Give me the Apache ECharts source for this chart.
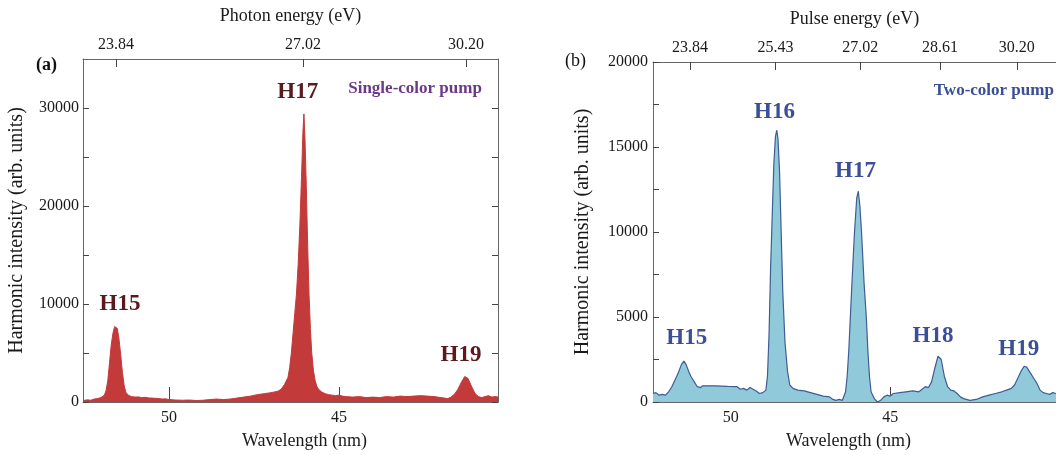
<!DOCTYPE html>
<html>
<head>
<meta charset="utf-8">
<script src="https://cdn.jsdelivr.net/npm/echarts@6/dist/echarts.min.js"></script>
<style>
  html, body { margin: 0; padding: 0; background: #fff; }
  #chart { width: 1056px; height: 455px; }
</style>
</head>
<body>
<div id="chart"></div>
<script>
  // panel (a) single-color pump spectrum: wavelength (nm) / intensity
  var waveA = [52.53, 52.4, 52.3, 52.2, 52.1, 52.0, 51.9, 51.85, 51.8, 51.75, 51.7, 51.65, 51.6, 51.56, 51.52, 51.47,
    51.42, 51.37, 51.32, 51.27, 51.2, 51.1, 51.0, 50.9, 50.8, 50.7, 50.6, 50.5, 50.4, 50.3, 50.2, 50.1, 50.0, 49.8,
    49.6, 49.4, 49.2, 49.0, 48.8, 48.6, 48.4, 48.2, 48.0, 47.8, 47.6, 47.4, 47.2, 47.0, 46.8, 46.7, 46.6, 46.5, 46.45,
    46.4, 46.35, 46.3, 46.25, 46.2, 46.15, 46.1, 46.06, 46.03, 46.0, 45.96, 45.92, 45.88, 45.84, 45.8, 45.75, 45.7,
    45.65, 45.6, 45.5, 45.4, 45.3, 45.2, 45.1, 45.0, 44.9, 44.8, 44.6, 44.4, 44.2, 44.0, 43.8, 43.6, 43.4, 43.2, 43.0,
    42.8, 42.6, 42.4, 42.2, 42.0, 41.9, 41.8, 41.7, 41.6, 41.5, 41.4, 41.3, 41.26, 41.2, 41.1, 41.0, 40.9, 40.8, 40.7,
    40.6, 40.5, 40.4, 40.32];
  var intA = [150, 220, 180, 300, 350, 450, 700, 1200, 2200, 4000, 5800, 7000, 7700, 7800, 7500, 6400,
    4800, 3000, 1700, 1000, 700, 550, 500, 520, 450, 480, 420, 400, 380, 350, 300, 320, 250, 200,
    180, 200, 150, 180, 250, 300, 250, 300, 400, 500, 600, 750, 850, 950, 1100, 1300, 1800, 2500, 3500,
    5000, 7000, 9000, 11000, 14000, 18000, 23000, 27500, 29400, 27000, 22000, 16000, 11000, 7500, 5000, 3200, 2200,
    1600, 1300, 1000, 850, 750, 700, 650, 700, 600, 550, 500, 550, 450, 500, 450, 550, 500, 600, 550,
    600, 650, 600, 550, 450, 400, 350, 500, 800, 1300, 2000, 2600, 2750, 2400, 1600, 900, 550, 450, 550,
    650, 500, 550, 500];

  // panel (b) two-color pump spectrum
  var waveB = [52.44, 52.35, 52.25, 52.15, 52.05, 51.95, 51.85, 51.75, 51.65, 51.55, 51.47, 51.4, 51.32, 51.25, 51.15,
    51.05, 50.95, 50.88, 50.5, 50.1, 49.8, 49.7, 49.6, 49.5, 49.4, 49.3, 49.2, 49.1, 49.0, 48.9, 48.85, 48.8, 48.75,
    48.7, 48.65, 48.6, 48.56, 48.52, 48.47, 48.42, 48.37, 48.3, 48.22, 48.15, 48.05, 47.9, 47.7, 47.5, 47.3, 47.1,
    46.9, 46.8, 46.7, 46.6, 46.5, 46.45, 46.4, 46.35, 46.3, 46.25, 46.2, 46.12, 46.05, 46.0, 45.95, 45.9, 45.82, 45.75,
    45.7, 45.65, 45.6, 45.5, 45.4, 45.3, 45.2, 45.1, 45.0, 44.9, 44.7, 44.5, 44.3, 44.1, 44.0, 43.9, 43.8, 43.7, 43.6,
    43.5, 43.45, 43.4, 43.3, 43.2, 43.1, 43.0, 42.9, 42.8, 42.7, 42.5, 42.3, 42.1, 41.9, 41.7, 41.5, 41.35, 41.2, 41.1,
    41.0, 40.9, 40.8, 40.72, 40.6, 40.5, 40.4, 40.3, 40.2, 40.1, 40.0, 39.9, 39.8];
  var intB = [500, 550, 400, 450, 400, 600, 900, 1300, 1700, 2200, 2400, 2200, 1800, 1500, 1200,
    900, 850, 950, 950, 920, 900, 750, 800, 700, 850, 750, 650, 500, 550, 700, 1500, 4000, 8000,
    11000, 14000, 15600, 16000, 15500, 13500, 10000, 6500, 3500, 1800, 1000, 800, 700, 650, 550, 450, 350,
    300, 150, 100, 150, 100, 200, 600, 1500, 3000, 5000, 7000, 10000, 12000, 12400, 11500, 10000, 7000, 5000,
    3000, 1500, 600, 200, 0, 100, 300, 400, 350, 500, 550, 600, 650, 600, 750, 900, 850, 1200, 2000,
    2700, 2750, 2500, 1500, 900, 700, 650, 500, 300, 200, 100, 150, 300, 400, 500, 600, 700, 800, 1000,
    1400, 1800, 2100, 2050, 1700, 1400, 1100, 700, 550, 500, 450, 550, 500];

  // top axis: energies and where they sit on the wavelength scale
  var energyLabelsA = ['23.84', '27.02', '30.20'];
  var energyWaveA = [51.56, 46.06, 41.26];
  var energyLabelsB = ['23.84', '25.43', '27.02', '28.61', '30.20'];
  var energyWaveB = [51.28, 48.6, 45.94, 43.44, 41.03];

  var waveTicks = [50, 45];
  var yLabelsA = [0, 10000, 20000, 30000];
  var yTicksA = [0, 5000, 10000, 15000, 20000, 25000, 30000];
  var yLabelsB = [0, 5000, 10000, 15000, 20000];
  var yTicksB = [0, 2500, 5000, 7500, 10000, 12500, 15000, 17500, 20000];

  // peak labels: [name, wavelength, intensity]
  var peaksA = [['H15', 51.44, 9970], ['H17', 46.21, 31640], ['H19', 41.41, 4780]];
  var peaksB = [['H15', 51.38, 3760], ['H16', 48.63, 17060], ['H17', 46.09, 13590], ['H18', 43.66, 3880], ['H19', 40.97, 3120]];
  var noteA = ['Single-color pump', 42.76, 31940];
  var noteB = ['Two-color pump', 41.75, 18300];

  var font = 'Liberation Serif';
  var axisColor = '#666';
  var textColor = '#1a1a1a';

  function zip(xs, ys) {
    return xs.map(function (x, i) { return [x, ys[i]]; });
  }

  function pickLabel(waves, labels) {
    return function (v) {
      for (var i = 0; i < waves.length; i++) {
        if (Math.abs(waves[i] - v) < 1e-6) return labels[i];
      }
      return '';
    };
  }

  function bottomAxis(grid, min, max, nameShift) {
    return {
      type: 'value', gridIndex: grid, position: 'bottom', inverse: true, min: min, max: max,
      name: 'Wavelength (nm)', nameLocation: 'middle', nameGap: 30,
      nameTextStyle: { fontFamily: font, fontSize: 18, color: textColor, padding: [0, 0, 0, nameShift] },
      axisLine: { show: true, onZero: false, lineStyle: { color: axisColor } },
      axisTick: { show: true, inside: true, length: 15, customValues: waveTicks, lineStyle: { color: '#444' } },
      axisLabel: { customValues: waveTicks, fontFamily: font, fontSize: 16, color: textColor, margin: 8 },
      splitLine: { show: false }
    };
  }

  function topAxis(grid, min, max, name, waves, labels) {
    return {
      type: 'value', gridIndex: grid, position: 'top', inverse: true, min: min, max: max,
      name: name, nameLocation: 'middle', nameGap: 34,
      nameTextStyle: { fontFamily: font, fontSize: 18, color: textColor },
      axisLine: { show: true, onZero: false, lineStyle: { color: axisColor } },
      axisTick: { show: true, inside: true, length: 8, customValues: waves, lineStyle: { color: '#444' } },
      axisLabel: { customValues: waves, formatter: pickLabel(waves, labels), fontFamily: font, fontSize: 16,
        color: textColor, margin: 6 },
      splitLine: { show: false }
    };
  }

  function labelSeries(x, y, peaks, note, color, noteColor) {
    var data = peaks.map(function (p) {
      return { name: p[0], value: [p[1], p[2]] };
    });
    data.push({ name: note[0], value: [note[1], note[2]],
      label: { fontSize: 17, color: noteColor } });
    return {
      type: 'scatter', xAxisIndex: x, yAxisIndex: y, symbolSize: 0, silent: true, z: 5,
      itemStyle: { opacity: 1 },
      label: { show: true, position: 'inside', formatter: '{b}', fontFamily: font, fontWeight: 'bold',
        fontSize: 23, color: color, opacity: 1 },
      data: data
    };
  }

  var chart = echarts.init(document.getElementById('chart'), null, { renderer: 'canvas' });

  var option = {
    backgroundColor: '#fff',
    animation: false,
    grid: [
      { left: 83, right: 558, top: 59, bottom: 53 },
      { left: 653, right: 0, top: 62, bottom: 53 }
    ],
    xAxis: [
      bottomAxis(0, 40.32, 52.53, 28),
      topAxis(0, 40.32, 52.53, 'Photon energy (eV)', energyWaveA, energyLabelsA),
      bottomAxis(1, 39.8, 52.44, -12),
      topAxis(1, 39.8, 52.44, 'Pulse energy (eV)', energyWaveB, energyLabelsB)
    ],
    yAxis: [
      {
        type: 'value', gridIndex: 0, position: 'left', min: 0, max: 35000,
        name: 'Harmonic intensity (arb. units)', nameLocation: 'middle', nameGap: 56,
        nameTextStyle: { fontFamily: font, fontSize: 20, color: textColor },
        axisLine: { show: true, lineStyle: { color: axisColor } },
        axisTick: { show: true, inside: true, length: 6, customValues: yTicksA, lineStyle: { color: '#444' } },
        axisLabel: { customValues: yLabelsA, formatter: function (v) { return String(v); },
          fontFamily: font, fontSize: 16, color: textColor, margin: 4 },
        splitLine: { show: false }
      },
      {
        type: 'value', gridIndex: 0, position: 'right', min: 0, max: 35000,
        axisLine: { show: true, lineStyle: { color: axisColor } },
        axisTick: { show: true, inside: true, length: 6, customValues: yTicksA, lineStyle: { color: '#444' } },
        axisLabel: { show: false },
        splitLine: { show: false }
      },
      {
        type: 'value', gridIndex: 1, position: 'left', min: 0, max: 20000,
        name: 'Harmonic intensity (arb. units)', nameLocation: 'middle', nameGap: 60,
        nameTextStyle: { fontFamily: font, fontSize: 20, color: textColor },
        axisLine: { show: true, lineStyle: { color: axisColor } },
        axisTick: { show: true, inside: true, length: 6, customValues: yTicksB, lineStyle: { color: '#444' } },
        axisLabel: { customValues: yLabelsB, formatter: function (v) { return String(v); },
          fontFamily: font, fontSize: 16, color: textColor, margin: 5 },
        splitLine: { show: false }
      }
    ],
    graphic: [
      { type: 'text', left: 36, top: 56, style: { text: '(a)', font: 'bold 18px "Liberation Serif"', fill: '#111' } },
      { type: 'text', left: 565, top: 52, style: { text: '(b)', font: '18px "Liberation Serif"', fill: '#111' } }
    ],
    series: [
      {
        type: 'line', xAxisIndex: 0, yAxisIndex: 0, showSymbol: false, silent: true,
        data: zip(waveA, intA),
        lineStyle: { color: '#c23a3a', width: 1 },
        areaStyle: { color: '#c23a3a', opacity: 1 }
      },
      {
        type: 'line', xAxisIndex: 2, yAxisIndex: 2, showSymbol: false, silent: true,
        data: zip(waveB, intB),
        lineStyle: { color: '#3f5c93', width: 1.2 },
        areaStyle: { color: '#90c9d9', opacity: 1 }
      },
      labelSeries(0, 0, peaksA, noteA, '#5a1a1e', '#6b3a86'),
      labelSeries(2, 2, peaksB, noteB, '#3a4f96', '#3a4f96')
    ]
  };

  chart.setOption(option);
  window.addEventListener('resize', chart.resize);
</script>
</body>
</html>
